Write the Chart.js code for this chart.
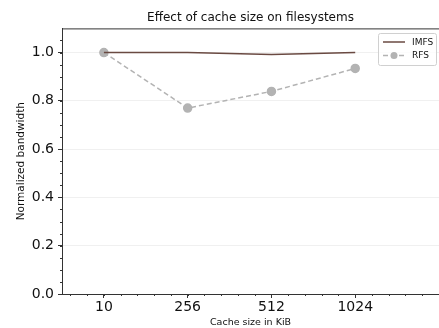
<!DOCTYPE html>
<html>
<head>
<meta charset="utf-8">
<script src="https://cdn.jsdelivr.net/npm/chart.js@4/dist/chart.umd.min.js"></script>
<style>
  html, body { margin: 0; padding: 0; background: #fff; }
  #wrap { width: 439px; height: 328px; position: relative; }
</style>
</head>
<body>
<div id="wrap"><canvas id="cacheChart"></canvas></div>
<script>
const cacheSizes = ["10", "256", "512", "1024"];
const imfsValues = [1.0, 1.0, 0.992, 1.0];
const rfsValues = [1.0, 0.77, 0.839, 0.934];
const yTicks = [0.0, 0.2, 0.4, 0.6, 0.8, 1.0];

const imfsColor = "#6a4a42";
const rfsColor = "#b3b3b3";
const axisColor = "#333";

const toPoints = (values) => values.map((v, i) => ({ x: i, y: v }));

// small tick marks, top spine and the legend box
const extrasPlugin = {
    id: "extras",
    afterDraw(chart) {
        const ctx = chart.ctx;
        const area = chart.chartArea;
        const xs = chart.scales.x;
        const ys = chart.scales.y;
        ctx.save();
        ctx.strokeStyle = axisColor;
        ctx.lineWidth = 1;

        // top spine
        ctx.beginPath();
        ctx.moveTo(area.left, area.top + 0.5);
        ctx.lineTo(area.right, area.top + 0.5);
        ctx.stroke();

        // minor ticks on y
        ctx.beginPath();
        for (let v = 0.05; v < 1.1; v += 0.05) {
            const py = Math.round(ys.getPixelForValue(v)) + 0.5;
            ctx.moveTo(area.left - 2, py);
            ctx.lineTo(area.left, py);
        }
        // minor ticks on x
        for (let v = -0.4; v < 4; v += 0.2) {
            const px = Math.round(xs.getPixelForValue(v)) + 0.5;
            ctx.moveTo(px, area.bottom);
            ctx.lineTo(px, area.bottom + 2);
        }
        ctx.stroke();

        // legend
        const bx = 378, by = 33, bw = 58, bh = 32;
        ctx.fillStyle = "rgba(255,255,255,0.8)";
        ctx.strokeStyle = "#d0d0d0";
        ctx.beginPath();
        ctx.roundRect(bx + 0.5, by + 0.5, bw, bh, 2);
        ctx.fill();
        ctx.stroke();

        const datasets = chart.data.datasets;
        datasets.forEach((ds, i) => {
            const ly = by + 9 + i * 13.5;
            ctx.strokeStyle = ds.borderColor;
            ctx.lineWidth = 1.5;
            ctx.setLineDash(ds.borderDash || []);
            ctx.beginPath();
            ctx.moveTo(bx + 5, ly);
            ctx.lineTo(bx + 27, ly);
            ctx.stroke();
            ctx.setLineDash([]);
            if (ds.pointRadius > 0) {
                ctx.fillStyle = ds.pointBackgroundColor;
                ctx.beginPath();
                ctx.arc(bx + 16, ly, 3.5, 0, Math.PI * 2);
                ctx.fill();
            }
            ctx.fillStyle = "#111";
            ctx.font = "9px 'DejaVu Sans'";
            ctx.textBaseline = "middle";
            ctx.fillText(ds.label, bx + 34, ly + 0.5);
        });
        ctx.restore();
    }
};

const config = {
    type: "line",
    data: {
        datasets: [
            {
                label: "IMFS",
                data: toPoints(imfsValues),
                borderColor: imfsColor,
                borderWidth: 1.5,
                pointRadius: 0,
                tension: 0
            },
            {
                label: "RFS",
                data: toPoints(rfsValues),
                borderColor: rfsColor,
                backgroundColor: rfsColor,
                pointBackgroundColor: rfsColor,
                pointBorderColor: rfsColor,
                borderWidth: 1.5,
                borderDash: [5, 3],
                pointRadius: 4,
                tension: 0
            }
        ]
    },
    options: {
        responsive: true,
        maintainAspectRatio: false,
        animation: false,
        layout: { autoPadding: false, padding: 0 },
        plugins: {
            legend: { display: false },
            tooltip: { enabled: false },
            title: {
                display: true,
                fullSize: false,
                text: "Effect of cache size on filesystems",
                color: "#111",
                font: { family: "DejaVu Sans", size: 12, weight: "normal" },
                padding: { top: 11, bottom: 3 }
            }
        },
        scales: {
            x: {
                type: "linear",
                min: -0.5,
                max: 4,
                afterBuildTicks: (scale) => {
                    scale.ticks = cacheSizes.map((_, i) => ({ value: i }));
                },
                afterFit: (scale) => { scale.height = 34; },
                ticks: {
                    callback: (value) => cacheSizes[value],
                    color: "#111",
                    font: { family: "DejaVu Sans", size: 14 },
                    padding: 1,
                    maxRotation: 0
                },
                grid: { drawOnChartArea: false, tickLength: 4, tickColor: axisColor },
                border: { color: axisColor, width: 1 },
                title: {
                    display: true,
                    text: "Cache size in KiB",
                    color: "#111",
                    font: { family: "DejaVu Sans", size: 9.5 },
                    padding: { top: 0, bottom: 0 }
                }
            },
            y: {
                min: 0,
                max: 1.1,
                afterBuildTicks: (scale) => {
                    scale.ticks = yTicks.map((v) => ({ value: v }));
                },
                afterFit: (scale) => { scale.width = 62; },
                ticks: {
                    callback: (value) => value.toFixed(1),
                    color: "#111",
                    font: { family: "DejaVu Sans", size: 14 },
                    padding: 4
                },
                grid: { color: "#f0f0f0", tickLength: 4, tickColor: axisColor },
                border: { color: axisColor, width: 1 },
                title: {
                    display: true,
                    text: "Normalized bandwidth",
                    color: "#111",
                    font: { family: "DejaVu Sans", size: 10.5 },
                    padding: { top: 15, bottom: 0 }
                }
            }
        }
    },
    plugins: [extrasPlugin]
};

new Chart(document.getElementById("cacheChart"), config);
</script>
</body>
</html>
